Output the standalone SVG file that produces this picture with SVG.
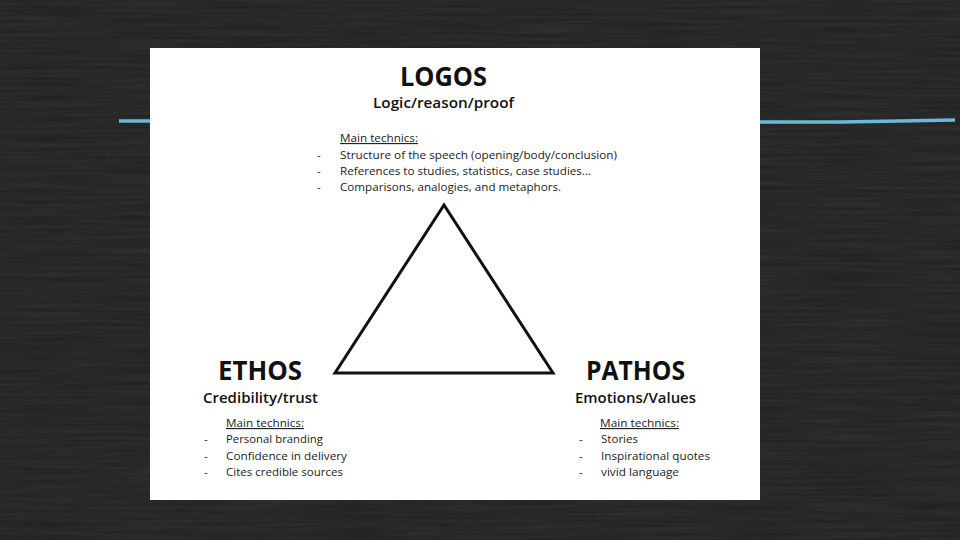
<svg xmlns="http://www.w3.org/2000/svg" width="960" height="540" viewBox="0 0 960 540">
<defs>
<filter id="chalk" x="0" y="0" width="100%" height="100%">
<feTurbulence type="fractalNoise" baseFrequency="0.01 0.3" numOctaves="3" seed="5" result="n"/>
<feColorMatrix in="n" type="matrix" values="0 0 0 0 0.5  0 0 0 0 0.5  0 0 0 0 0.5  0 0 0 0.12 -0.02"/>
</filter>
<style>
.h{font-family:"Open Sans","Liberation Sans",sans-serif;font-weight:bold;fill:#111;text-anchor:start}
.s{font-family:"Open Sans","Liberation Sans",sans-serif;font-weight:600;fill:#111}
.b{font-family:"Open Sans","Liberation Sans",sans-serif;font-size:11.5px;fill:#222}
.u{text-decoration:underline}
.blue{stroke:#6ab8dc;stroke-width:3.5;fill:none}
</style>
</defs>
<rect width="960" height="540" fill="#222"/>
<rect width="960" height="540" filter="url(#chalk)"/>
<path class="blue" d="M119 121 L150 121"/>
<path class="blue" d="M760 122 L840 122 L900 121 L955 120"/>
<rect x="150" y="48" width="610" height="452" fill="#fff"/>
<g id="triangle">
<polygon points="444,205 335,373 553,373" fill="none" stroke="#111" stroke-width="3" stroke-linejoin="miter"/>
</g>
<g id="logos">
<text class="h" x="400" y="86" font-size="26" textLength="87" lengthAdjust="spacingAndGlyphs">LOGOS</text>
<text class="s" x="373" y="108" font-size="15" textLength="141" lengthAdjust="spacingAndGlyphs">Logic/reason/proof</text>
<text class="b u" x="340" y="142" textLength="78" lengthAdjust="spacingAndGlyphs">Main technics:</text>
<text class="b" x="317" y="159">-</text>
<text class="b" x="340" y="159" textLength="277" lengthAdjust="spacingAndGlyphs">Structure of the speech (opening/body/conclusion)</text>
<text class="b" x="317" y="175">-</text>
<text class="b" x="340" y="175" textLength="251" lengthAdjust="spacingAndGlyphs">References to studies, statistics, case studies…</text>
<text class="b" x="317" y="191">-</text>
<text class="b" x="340" y="191" textLength="221" lengthAdjust="spacingAndGlyphs">Comparisons, analogies, and metaphors.</text>
</g>
<g id="ethos">
<text class="h" x="218" y="380" font-size="26" textLength="84" lengthAdjust="spacingAndGlyphs">ETHOS</text>
<text class="s" x="203" y="403" font-size="15" textLength="115" lengthAdjust="spacingAndGlyphs">Credibility/trust</text>
<text class="b u" x="226" y="427" textLength="78" lengthAdjust="spacingAndGlyphs">Main technics:</text>
<text class="b" x="204" y="443">-</text>
<text class="b" x="226" y="443" textLength="97" lengthAdjust="spacingAndGlyphs">Personal branding</text>
<text class="b" x="204" y="460">-</text>
<text class="b" x="226" y="460" textLength="121" lengthAdjust="spacingAndGlyphs">Confidence in delivery</text>
<text class="b" x="204" y="476">-</text>
<text class="b" x="226" y="476" textLength="117" lengthAdjust="spacingAndGlyphs">Cites credible sources</text>
</g>
<g id="pathos">
<text class="h" x="586" y="380" font-size="26" textLength="99" lengthAdjust="spacingAndGlyphs">PATHOS</text>
<text class="s" x="575" y="403" font-size="15" textLength="121" lengthAdjust="spacingAndGlyphs">Emotions/Values</text>
<text class="b u" x="600" y="427" textLength="79" lengthAdjust="spacingAndGlyphs">Main technics:</text>
<text class="b" x="579" y="443">-</text>
<text class="b" x="601" y="443" textLength="37" lengthAdjust="spacingAndGlyphs">Stories</text>
<text class="b" x="579" y="460">-</text>
<text class="b" x="601" y="460" textLength="109" lengthAdjust="spacingAndGlyphs">Inspirational quotes</text>
<text class="b" x="579" y="476">-</text>
<text class="b" x="601" y="476" textLength="78" lengthAdjust="spacingAndGlyphs">vivid language</text>
</g>
</svg>
